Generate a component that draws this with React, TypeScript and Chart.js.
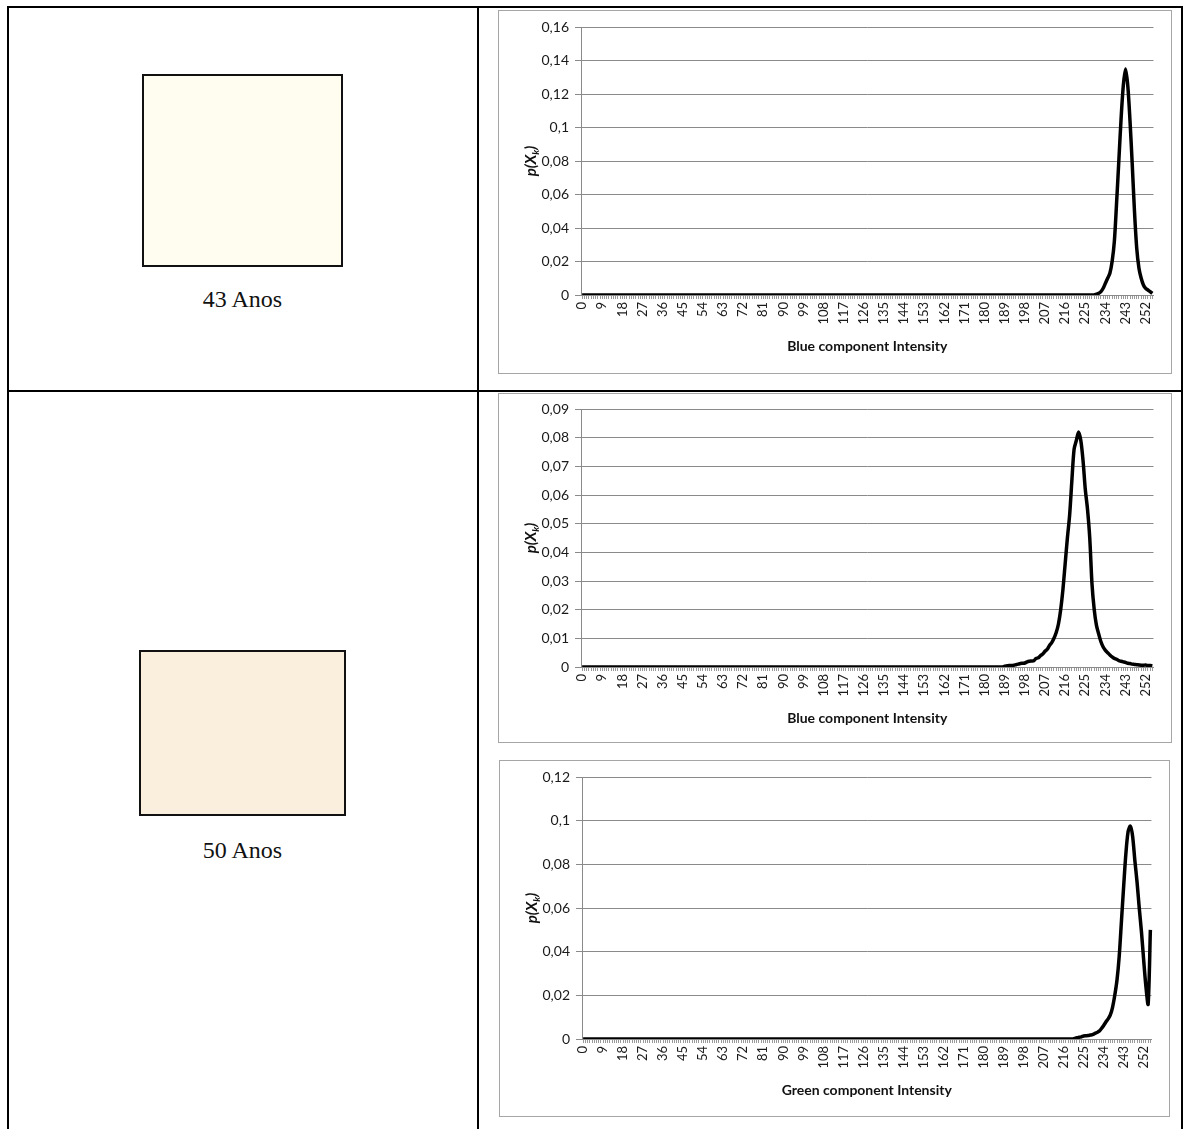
import React, { useEffect, useRef } from 'react';
import { Chart, registerables } from 'chart.js';

Chart.register(...registerables);

// Intensity levels 0..255 (category axis)
const intensityLevels: string[] = Array.from({ length: 256 }, (_, i) => String(i));

// p(Xk) — Blue component, 43 Anos
const blue43: number[] = [
  0,0,0,0,0,0,0,0,0,0,0,0,0,0,0,0,
  0,0,0,0,0,0,0,0,0,0,0,0,0,0,0,0,
  0,0,0,0,0,0,0,0,0,0,0,0,0,0,0,0,
  0,0,0,0,0,0,0,0,0,0,0,0,0,0,0,0,
  0,0,0,0,0,0,0,0,0,0,0,0,0,0,0,0,
  0,0,0,0,0,0,0,0,0,0,0,0,0,0,0,0,
  0,0,0,0,0,0,0,0,0,0,0,0,0,0,0,0,
  0,0,0,0,0,0,0,0,0,0,0,0,0,0,0,0,
  0,0,0,0,0,0,0,0,0,0,0,0,0,0,0,0,
  0,0,0,0,0,0,0,0,0,0,0,0,0,0,0,0,
  0,0,0,0,0,0,0,0,0,0,0,0,0,0,0,0,
  0,0,0,0,0,0,0,0,0,0,0,0,0,0,0,0,
  0,0,0,0,0,0,0,0,0,0,0,0,0,0,0,0,
  0,0,0,0,0,0,0,0,0,0,0,0,0,0,0,0,
  0,0,0,0,0,0,0.0005,0.001,0.002,0.004,0.007,0.010,0.013,0.020,0.032,0.055,
  0.080,0.105,0.125,0.135,0.125,0.104,0.078,0.050,0.028,0.016,0.010,0.006,0.004,0.003,0.002,0.001,
];

// p(Xk) — Blue component, 50 Anos
const blue50: number[] = [
  0,0,0,0,0,0,0,0,0,0,0,0,0,0,0,0,
  0,0,0,0,0,0,0,0,0,0,0,0,0,0,0,0,
  0,0,0,0,0,0,0,0,0,0,0,0,0,0,0,0,
  0,0,0,0,0,0,0,0,0,0,0,0,0,0,0,0,
  0,0,0,0,0,0,0,0,0,0,0,0,0,0,0,0,
  0,0,0,0,0,0,0,0,0,0,0,0,0,0,0,0,
  0,0,0,0,0,0,0,0,0,0,0,0,0,0,0,0,
  0,0,0,0,0,0,0,0,0,0,0,0,0,0,0,0,
  0,0,0,0,0,0,0,0,0,0,0,0,0,0,0,0,
  0,0,0,0,0,0,0,0,0,0,0,0,0,0,0,0,
  0,0,0,0,0,0,0,0,0,0,0,0,0,0,0,0,
  0,0,0,0,0,0,0,0,0,0,0,0,0,0.0003,0.0004,0.0005,
  0.0005,0.0006,0.0008,0.0010,0.0012,0.0013,0.0014,0.0018,0.0020,0.0021,0.0022,0.0030,0.0032,0.0040,0.0045,0.0055,
  0.0062,0.0075,0.0085,0.0100,0.0120,0.0150,0.0200,0.0270,0.0360,0.0450,0.0530,0.0650,0.0760,0.0790,0.0820,0.0790,
  0.0720,0.0620,0.0550,0.0450,0.0290,0.0200,0.0145,0.0115,0.0088,0.0070,0.0058,0.0050,0.0042,0.0035,0.0030,0.0027,
  0.0022,0.0020,0.0018,0.0016,0.0013,0.0012,0.0010,0.0009,0.0008,0.0007,0.0006,0.0006,0.0007,0.0005,0.0005,0.0004,
];

// p(Xk) — Green component, 50 Anos
const green50: number[] = [
  0,0,0,0,0,0,0,0,0,0,0,0,0,0,0,0,
  0,0,0,0,0,0,0,0,0,0,0,0,0,0,0,0,
  0,0,0,0,0,0,0,0,0,0,0,0,0,0,0,0,
  0,0,0,0,0,0,0,0,0,0,0,0,0,0,0,0,
  0,0,0,0,0,0,0,0,0,0,0,0,0,0,0,0,
  0,0,0,0,0,0,0,0,0,0,0,0,0,0,0,0,
  0,0,0,0,0,0,0,0,0,0,0,0,0,0,0,0,
  0,0,0,0,0,0,0,0,0,0,0,0,0,0,0,0,
  0,0,0,0,0,0,0,0,0,0,0,0,0,0,0,0,
  0,0,0,0,0,0,0,0,0,0,0,0,0,0,0,0,
  0,0,0,0,0,0,0,0,0,0,0,0,0,0,0,0,
  0,0,0,0,0,0,0,0,0,0,0,0,0,0,0,0,
  0,0,0,0,0,0,0,0,0,0,0,0,0,0,0,0,
  0,0,0,0,0,0,0,0,0,0,0,0,0,0.0003,0.0006,0.0008,
  0.0010,0.0014,0.0015,0.0016,0.0018,0.0020,0.0025,0.0030,0.0036,0.0048,0.0062,0.0078,0.0092,0.0110,0.0145,0.0200,
  0.0270,0.0380,0.0540,0.0700,0.0850,0.0950,0.0975,0.0930,0.0820,0.0720,0.0600,0.0490,0.0360,0.0240,0.0160,0.0500,
];

const rowLabels = ['43 Anos', '50 Anos'];
const xTitles = ['Blue component Intensity', 'Blue component Intensity', 'Green component Intensity'];
const yMaxes = [0.16, 0.09, 0.12];
const ySteps = [0.02, 0.01, 0.02];

const fmtTick = (v: number) => String(parseFloat(Number(v).toFixed(2))).replace('.', ',');

type Box = { left: number; top: number; width: number; height: number };

function HistChart(props: {
  values: number[];
  yMax: number;
  yStep: number;
  xTitle: string;
  box: Box;
  padTop: number;
  padBottom: number;
}) {
  const { values, yMax, yStep, xTitle, box, padTop, padBottom } = props;
  const ref = useRef<HTMLCanvasElement | null>(null);

  useEffect(() => {
    if (!ref.current) return;
    const titles = {
      id: 'axisTitles',
      afterDraw(chart: any) {
        const { ctx, chartArea: a } = chart;
        ctx.save();
        ctx.fillStyle = '#111111';
        ctx.font = 'bold 14px Lato';
        ctx.textAlign = 'center';
        ctx.textBaseline = 'middle';
        ctx.fillText(xTitle, (a.left + a.right) / 2, a.bottom + 51);
        ctx.translate(a.left - 50, (a.top + a.bottom) / 2);
        ctx.rotate(-Math.PI / 2);
        const f1 = 'italic bold 15px Lato';
        const f2 = 'italic bold 10px Lato';
        ctx.font = f1;
        const w1 = ctx.measureText('p(X').width;
        const w3 = ctx.measureText(')').width;
        ctx.font = f2;
        const w2 = ctx.measureText('k').width;
        let x = -(w1 + w2 + w3) / 2;
        ctx.textAlign = 'left';
        ctx.textBaseline = 'alphabetic';
        ctx.font = f1;
        ctx.fillText('p(X', x, 5);
        x += w1;
        ctx.font = f2;
        ctx.fillText('k', x, 8);
        x += w2;
        ctx.font = f1;
        ctx.fillText(')', x, 5);
        ctx.restore();
      },
    };

    const chart = new Chart(ref.current, {
      type: 'line',
      data: {
        labels: intensityLevels,
        datasets: [
          {
            data: values,
            borderColor: '#000000',
            borderWidth: 3.5,
            pointRadius: 0,
            tension: 0.3,
            fill: false,
          },
        ],
      },
      options: {
        responsive: false,
        animation: false,
        events: [],
        layout: { padding: { left: 42, right: 16, top: padTop, bottom: padBottom } },
        plugins: { legend: { display: false }, tooltip: { enabled: false } },
        scales: {
          x: {
            type: 'category',
            offset: true,
            grid: { drawOnChartArea: false, drawTicks: true, tickLength: 4, color: '#9a9a9a' },
            border: { display: true, color: '#8a8a8a' },
            ticks: {
              autoSkip: false,
              maxRotation: 90,
              minRotation: 90,
              padding: 3,
              color: '#1a1a1a',
              font: { family: 'Lato', size: 13 },
              callback: (_v: any, i: number) => (i % 9 === 0 ? intensityLevels[i] : ''),
            },
            afterFit: (s: any) => {
              s.height = 40;
            },
          },
          y: {
            min: 0,
            max: yMax,
            grid: { color: '#8a8a8a', tickLength: 6 },
            border: { color: '#8a8a8a' },
            ticks: {
              stepSize: yStep,
              padding: 6,
              color: '#1a1a1a',
              font: { family: 'Lato', size: 14 },
              callback: (v: any) => fmtTick(v),
            },
            afterFit: (s: any) => {
              s.width = 40;
            },
          },
        },
      } as any,
      plugins: [titles],
    });
    return () => chart.destroy();
  }, [values, yMax, yStep, xTitle, padTop, padBottom]);

  return (
    <div
      style={{
        position: 'absolute',
        left: box.left,
        top: box.top,
        width: box.width,
        height: box.height,
        border: '1px solid #a6a6a6',
        boxSizing: 'border-box',
        background: '#fff',
      }}
    >
      <canvas
        ref={ref}
        width={box.width - 2}
        height={box.height - 2}
        style={{ display: 'block', width: box.width - 2, height: box.height - 2 }}
      />
    </div>
  );
}

const line = (left: number, top: number, width: number, height: number) => (
  <div style={{ position: 'absolute', left, top, width, height, background: '#000' }} />
);

export default function App() {
  return (
    <div
      style={{
        position: 'absolute',
        left: 0,
        top: 0,
        width: 1183,
        height: 1129,
        background: '#fff',
        overflow: 'hidden',
      }}
    >
      {line(7, 6, 1176, 2)}
      {line(7, 390, 1176, 2)}
      {line(7, 6, 2, 1123)}
      {line(477, 6, 2, 1123)}
      {line(1181, 6, 2, 1123)}

      <div
        style={{
          position: 'absolute',
          left: 142,
          top: 74,
          width: 201,
          height: 193,
          border: '2px solid #111',
          boxSizing: 'border-box',
          background: '#fffdf0',
        }}
      />
      <div
        style={{
          position: 'absolute',
          left: 8,
          width: 469,
          top: 287,
          textAlign: 'center',
          font: '24px "Liberation Serif", "Times New Roman", serif',
          lineHeight: '24px',
          color: '#111',
        }}
      >
        {rowLabels[0]}
      </div>

      <div
        style={{
          position: 'absolute',
          left: 139,
          top: 650,
          width: 207,
          height: 166,
          border: '2px solid #111',
          boxSizing: 'border-box',
          background: '#f9efdc',
        }}
      />
      <div
        style={{
          position: 'absolute',
          left: 8,
          width: 469,
          top: 838,
          textAlign: 'center',
          font: '24px "Liberation Serif", "Times New Roman", serif',
          lineHeight: '24px',
          color: '#111',
        }}
      >
        {rowLabels[1]}
      </div>

      <HistChart
        values={blue43}
        yMax={yMaxes[0]}
        yStep={ySteps[0]}
        xTitle={xTitles[0]}
        box={{ left: 498, top: 10, width: 674, height: 364 }}
        padTop={16}
        padBottom={38}
      />
      <HistChart
        values={blue50}
        yMax={yMaxes[1]}
        yStep={ySteps[1]}
        xTitle={xTitles[1]}
        box={{ left: 498, top: 393, width: 674, height: 350 }}
        padTop={15}
        padBottom={35}
      />
      <HistChart
        values={green50}
        yMax={yMaxes[2]}
        yStep={ySteps[2]}
        xTitle={xTitles[2]}
        box={{ left: 499, top: 760, width: 671, height: 357 }}
        padTop={16}
        padBottom={37}
      />
    </div>
  );
}
